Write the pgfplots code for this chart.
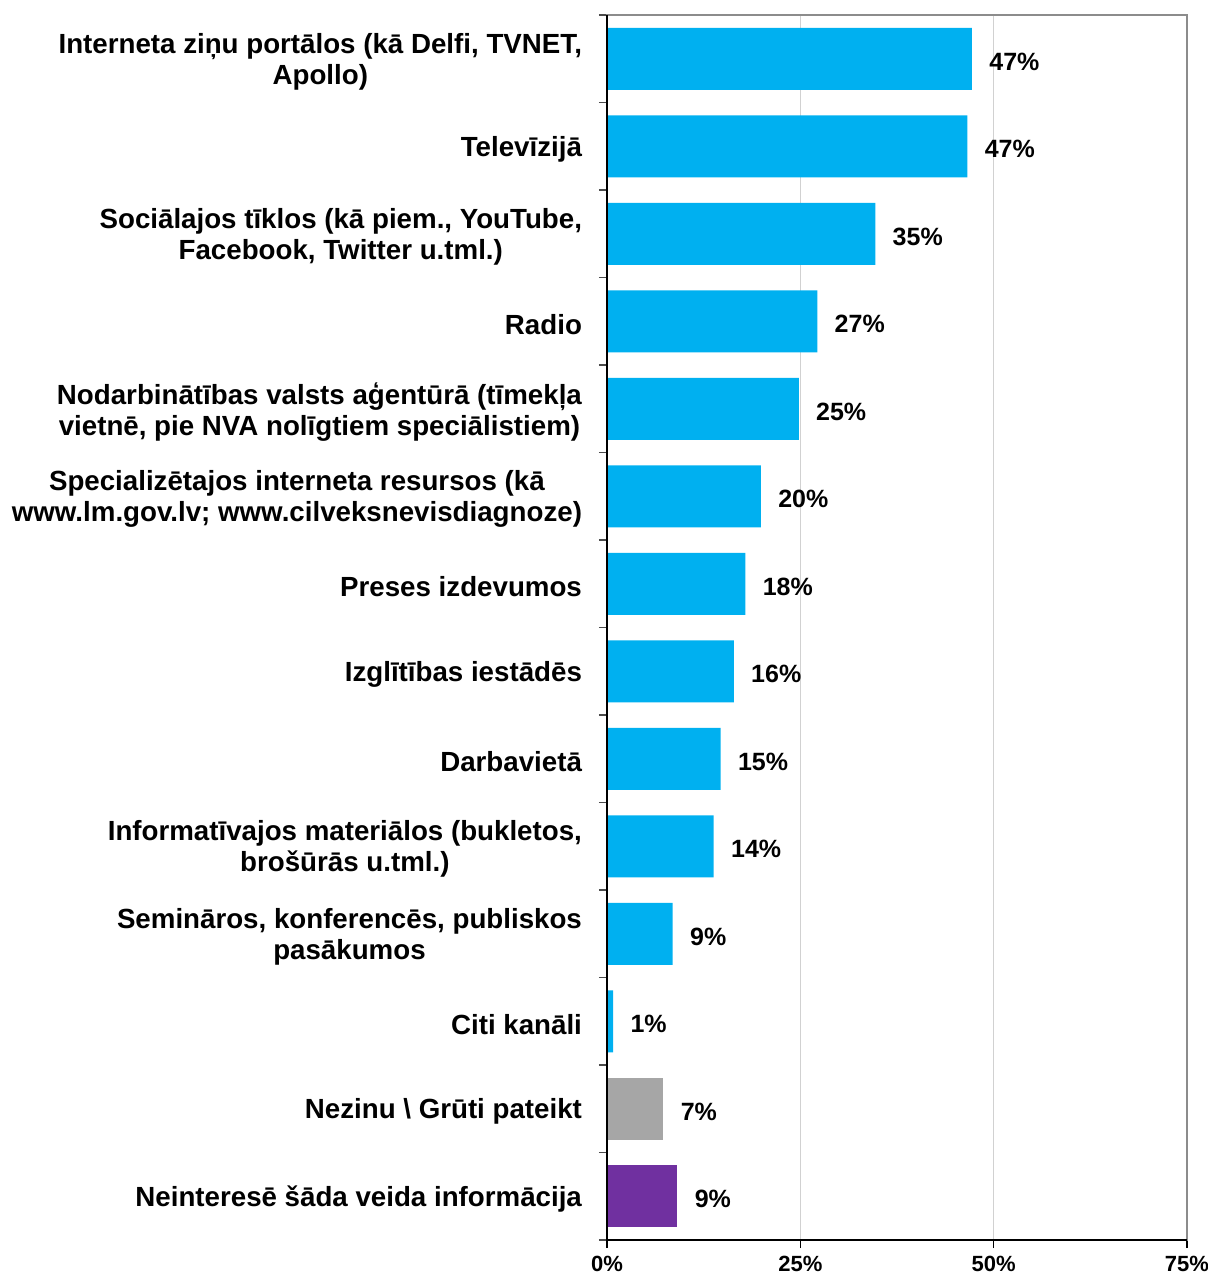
\documentclass[border=0pt]{standalone}
\usepackage{pgfplots}
\pgfplotsset{compat=1.18}
\usepackage{pgfplotstable}
\usepackage{fontspec}
\setmainfont{Liberation Sans}
\definecolor{barblue}{HTML}{00B0F0}
\definecolor{bargray}{HTML}{A6A6A6}
\definecolor{barpurple}{HTML}{7030A0}
\pgfplotstableread[col sep=comma]{
y,x,lab
1,47.2,47\%
2,46.6,47\%
3,34.7,35\%
4,27.2,27\%
5,24.8,25\%
6,19.9,20\%
7,17.9,18\%
8,16.4,16\%
9,14.7,15\%
10,13.8,14\%
11,8.5,9\%
12,0.8,1\%
}\blue
\pgfplotstableread[col sep=comma]{
y,x,lab
13,7.3,7\%
}\gray
\pgfplotstableread[col sep=comma]{
y,x,lab
14,9.1,9\%
}\purple
\begin{document}
\begin{tikzpicture}
\begin{axis}[
  name=ax,
  scale only axis,
  width=290pt, height=612.5pt,
  xmin=0, xmax=75,
  ymin=0.5, ymax=14.5,
  y dir=reverse,
  xbar, bar width=31pt, bar shift=0pt,
  xtick={0,25,50,75},
  xticklabel={\pgfmathprintnumber{\tick}\%},
  /pgf/number format/assume math mode=true,
  xticklabel style={font=\fontsize{11}{13}\selectfont\bfseries, inner sep=1pt, yshift=-3pt},
  xmajorgrids,
  grid style={draw=black!18, line width=0.6pt},
  axis line style={draw=black!45, line width=1pt},
  tick align=outside,
  xtick pos=bottom,
  ytick pos=left,
  major tick length=4pt,
  x tick style={draw=black, line width=0.8pt},
  ytick={1,...,14},
  y tick style={draw=none},
  minor ytick={0.5,1.5,...,14.5},
  minor y tick style={draw=black!70, line width=0.8pt},
  minor tick length=4pt,
  yticklabels={
    {Interneta ziņu portālos (kā Delfi, TVNET,\\Apollo)},
    {Televīzijā},
    {Sociālajos tīklos (kā piem., YouTube,\\Facebook, Twitter u.tml.)},
    {Radio},
    {Nodarbinātības valsts aģentūrā (tīmekļa\\vietnē, pie NVA nolīgtiem speciālistiem)},
    {Specializētajos interneta resursos (kā\\www.lm.gov.lv; www.cilveksnevisdiagnoze)},
    {Preses izdevumos},
    {Izglītības iestādēs},
    {Darbavietā},
    {Informatīvajos materiālos (bukletos,\\brošūrās u.tml.)},
    {Semināros, konferencēs, publiskos\\pasākumos},
    {Citi kanāli},
    {Nezinu \textbackslash{} Grūti pateikt},
    {Neinteresē šāda veida informācija}
  },
  yticklabel style={font=\fontsize{13.85}{15.5}\selectfont\bfseries, align=center, xshift=-5pt, yshift=-1.5pt},
  nodes near coords={\pgfplotspointmeta},
  point meta=explicit symbolic,
  every node near coord/.append style={font=\fontsize{12.5}{14}\selectfont\bfseries, anchor=west, inner sep=0pt, xshift=8.5pt, yshift=-1.5pt, text=black},
  clip=false,
]
\addplot[fill=barblue, draw=none] table[x=x, y=y, meta=lab] {\blue};
\addplot[fill=bargray, draw=none] table[x=x, y=y, meta=lab] {\gray};
\addplot[fill=barpurple, draw=none] table[x=x, y=y, meta=lab] {\purple};
\draw[black, line width=1pt] (axis cs:0,0.5) -- (axis cs:0,14.5) -- (axis cs:75,14.5);
\end{axis}
\pgfresetboundingbox
\path (ax.south west) ++(-303.5pt,-17.5pt) rectangle ++(604pt,637.5pt);
\end{tikzpicture}
\end{document}
